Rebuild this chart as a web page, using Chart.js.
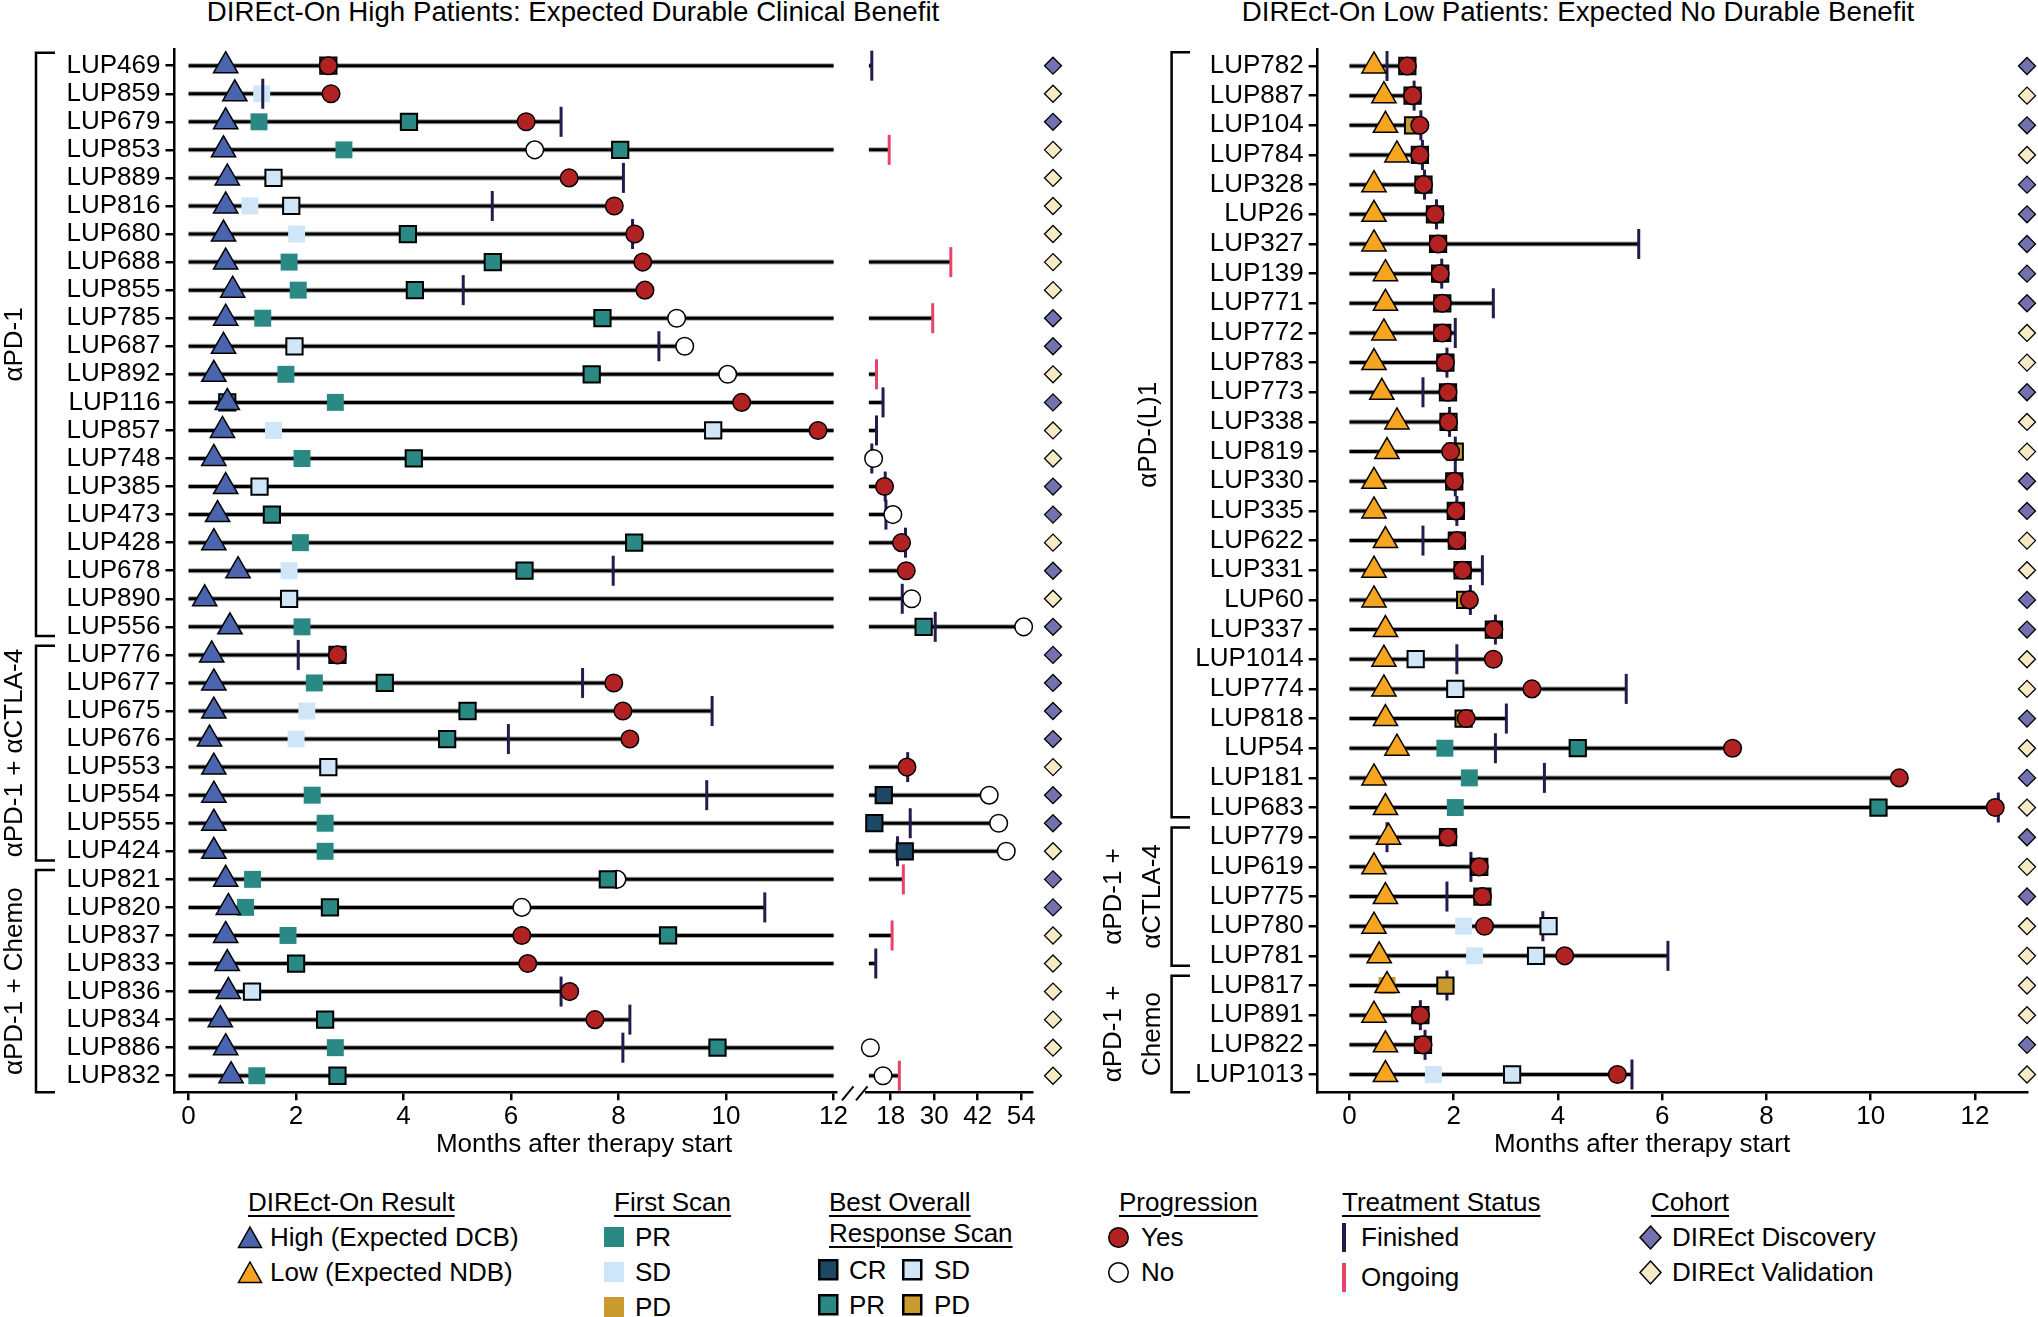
<!DOCTYPE html>
<html>
<head>
<meta charset="utf-8">
<title>DIREct-On swimmer plots</title>
<script src="https://cdn.jsdelivr.net/npm/chart.js@4.4.1/dist/chart.umd.min.js"></script>
<style>
  html, body { margin:0; padding:0; background:#fff; }
  body { width:2038px; height:1317px; position:relative; overflow:hidden;
         font-family:"Liberation Sans", Arial, sans-serif; color:#000; }
  .panel { position:absolute; top:0; height:1170px; }
  #panelL { left:0; width:1068px; }
  #panelR { left:1068px; width:970px; }
  .ptitle { position:absolute; top:-4px; font-size:27.7px; line-height:32px; white-space:nowrap; transform:translateX(-50%); }
  .lg { position:absolute; font-size:26px; line-height:30px; white-space:nowrap; }
  .lg.h { text-decoration: underline; text-decoration-thickness: 2px; text-underline-offset: 4px; }
  .sym { position:absolute; overflow:visible; }
</style>
</head>
<body>
<div class="ptitle" style="left:573px">DIREct-On High Patients: Expected Durable Clinical Benefit</div>
<div class="ptitle" style="left:1578px">DIREct-On Low Patients: Expected No Durable Benefit</div>
<div class="panel" id="panelL"><canvas id="chartL"></canvas></div>
<div class="panel" id="panelR"><canvas id="chartR"></canvas></div>
<div id="legend"></div>
<script>
// ===================== DATA: left panel (DIREct-On High) =====================
const leftPatients = ['LUP469','LUP859','LUP679','LUP853','LUP889','LUP816','LUP680','LUP688','LUP855','LUP785','LUP687','LUP892','LUP116','LUP857','LUP748','LUP385','LUP473','LUP428','LUP678','LUP890','LUP556','LUP776','LUP677','LUP675','LUP676','LUP553','LUP554','LUP555','LUP424','LUP821','LUP820','LUP837','LUP833','LUP836','LUP834','LUP886','LUP832'];
const leftDirectOnTime = [0.69,0.86,0.69,0.65,0.72,0.69,0.65,0.69,0.82,0.69,0.65,0.47,0.72,0.63,0.47,0.69,0.54,0.47,0.92,0.30,0.77,0.43,0.47,0.47,0.39,0.47,0.47,0.47,0.47,0.69,0.74,0.69,0.72,0.74,0.59,0.69,0.79];
const leftFirstScanTime = [null,1.36,1.31,2.89,null,1.14,2.01,1.87,2.04,1.38,null,1.81,2.73,1.58,2.11,null,null,2.08,1.87,null,2.11,null,2.34,2.20,2.00,null,2.30,2.54,2.54,1.19,1.06,1.85,null,null,null,2.73,1.27];
const leftFirstScanResp = [null,'SD','PR','PR',null,'SD','SD','PR','PR','PR',null,'PR','PR','SD','PR',null,null,'PR','SD',null,'PR',null,'PR','SD','SD',null,'PR','PR','PR','PR','PR','PR',null,null,null,'PR','PR'];
const leftBestRespTime = [2.60,null,4.10,8.03,1.58,1.91,4.08,5.66,4.21,7.70,1.97,7.50,0.72,9.76,4.19,1.32,1.55,8.29,6.25,1.87,27.1,2.77,3.65,5.19,4.81,2.60,16.1,13.5,21.9,7.80,2.63,8.92,2.00,1.18,2.54,9.84,2.77];
const leftBestResp = ['PD',null,'PR','PR','SD','SD','PR','PR','PR','PR','SD','PR','PR','SD','PR','SD','PR','PR','PR','SD','PR','PD','PR','PR','PR','SD','CR','CR','CR','PR','PR','PR','PR','SD','PR','PR','PR'];
const leftProgTime = [2.60,2.65,6.28,6.44,7.08,7.92,8.30,8.45,8.49,9.08,9.23,10.03,10.29,11.71,13.3,16.3,18.6,21.0,22.3,23.8,54.7,2.77,7.91,8.08,8.21,22.5,45.2,47.8,49.9,7.97,6.20,6.20,6.31,7.09,7.56,12.4,15.9];
const leftProgressed = ['Yes','Yes','Yes','No','Yes','Yes','Yes','Yes','Yes','No','No','No','Yes','Yes','No','Yes','No','Yes','Yes','No','No','Yes','Yes','Yes','Yes','Yes','No','No','No','No','No','Yes','Yes','Yes','Yes','No','No'];
const leftTreatTime = [12.8,1.38,6.93,17.6,8.09,5.65,8.26,34.6,5.11,29.6,8.75,14.1,15.9,14.1,12.8,16.5,16.7,22.1,7.90,21.2,30.3,2.04,7.33,9.74,5.95,22.7,9.64,23.4,19.9,21.5,10.72,18.4,13.9,6.93,8.21,8.08,20.4];
const leftTreatStatus = ['Finished','Finished','Finished','Ongoing','Finished','Finished','Finished','Ongoing','Finished','Ongoing','Finished','Ongoing','Finished','Finished','Finished','Finished','Finished','Finished','Finished','Finished','Finished','Finished','Finished','Finished','Finished','Finished','Finished','Finished','Finished','Ongoing','Finished','Ongoing','Finished','Finished','Finished','Finished','Ongoing'];
const leftCohort = ['Discovery','Validation','Discovery','Validation','Validation','Validation','Validation','Validation','Validation','Discovery','Discovery','Validation','Discovery','Validation','Validation','Discovery','Discovery','Validation','Discovery','Validation','Discovery','Discovery','Discovery','Discovery','Discovery','Validation','Discovery','Discovery','Validation','Discovery','Discovery','Validation','Validation','Validation','Validation','Validation','Validation'];
const leftGroups = [
  {lines:['αPD-1'], first:0, last:20},
  {lines:['αPD-1 + αCTLA-4'], first:21, last:28},
  {lines:['αPD-1 + Chemo'], first:29, last:36}
];
const leftTicksMain = [0,2,4,6,8,10,12];
const leftTicksLong = [18,30,42,54];

// ===================== DATA: right panel (DIREct-On Low) =====================
const rightPatients = ['LUP782','LUP887','LUP104','LUP784','LUP328','LUP26','LUP327','LUP139','LUP771','LUP772','LUP783','LUP773','LUP338','LUP819','LUP330','LUP335','LUP622','LUP331','LUP60','LUP337','LUP1014','LUP774','LUP818','LUP54','LUP181','LUP683','LUP779','LUP619','LUP775','LUP780','LUP781','LUP817','LUP891','LUP822','LUP1013'];
const rightDirectOnTime = [0.47,0.66,0.69,0.91,0.47,0.47,0.47,0.69,0.69,0.66,0.47,0.62,0.91,0.72,0.47,0.47,0.69,0.47,0.47,0.69,0.66,0.66,0.69,0.91,0.47,0.69,0.75,0.47,0.69,0.47,0.57,0.72,0.47,0.69,0.69];
const rightFirstScanTime = [null,null,null,null,null,null,null,null,null,null,null,null,null,null,null,null,null,null,null,null,null,null,null,1.83,2.30,2.03,null,null,null,2.19,2.40,0.72,null,null,1.61];
const rightFirstScanResp = [null,null,null,null,null,null,null,null,null,null,null,null,null,null,null,null,null,null,null,null,null,null,null,'PR','PR','PR',null,null,null,'SD','SD','PD',null,null,'SD'];
const rightBestRespTime = [1.11,1.21,1.22,1.35,1.42,1.64,1.70,1.74,1.78,1.78,1.84,1.89,1.90,2.02,2.01,2.04,2.06,2.17,2.22,2.77,1.27,2.03,2.19,4.38,null,10.15,1.89,2.49,2.55,3.82,3.58,1.84,1.36,1.41,3.12];
const rightBestResp = ['PD','PD','PD','PD','PD','PD','PD','PD','PD','PD','PD','PD','PD','PD','PD','PD','PD','PD','PD','PD','SD','SD','PD','PR',null,'PR','PD','PD','PD','SD','SD','PD','PD','PD','SD'];
const rightProgTime = [1.11,1.21,1.35,1.35,1.42,1.64,1.70,1.74,1.78,1.78,1.84,1.89,1.90,1.94,2.01,2.04,2.06,2.17,2.30,2.77,2.76,3.50,2.24,7.35,10.55,12.39,1.89,2.49,2.55,2.59,4.13,null,1.36,1.41,5.14];
const rightProgressed = ['Yes','Yes','Yes','Yes','Yes','Yes','Yes','Yes','Yes','Yes','Yes','Yes','Yes','Yes','Yes','Yes','Yes','Yes','Yes','Yes','Yes','Yes','Yes','Yes','Yes','Yes','Yes','Yes','Yes','Yes','Yes',null,'Yes','Yes','Yes'];
const rightTreatTime = [0.72,1.24,1.37,1.40,1.44,1.67,5.55,1.77,2.76,2.03,1.87,1.41,1.92,2.03,2.03,2.06,1.41,2.55,2.32,2.80,2.06,5.31,3.01,2.80,3.74,12.45,0.72,2.33,1.87,3.71,6.11,1.87,1.36,1.45,5.42];
const rightTreatStatus = rightPatients.map(() => 'Finished');
const rightCohort = ['Discovery','Validation','Discovery','Validation','Discovery','Discovery','Discovery','Discovery','Discovery','Validation','Validation','Discovery','Validation','Validation','Discovery','Discovery','Validation','Validation','Discovery','Discovery','Validation','Validation','Discovery','Validation','Discovery','Validation','Discovery','Validation','Discovery','Validation','Validation','Validation','Validation','Discovery','Validation'];
const rightGroups = [
  {lines:['αPD-(L)1'], first:0, last:25},
  {lines:['αPD-1 +','αCTLA-4'], first:26, last:30},
  {lines:['αPD-1 +','Chemo'], first:31, last:34}
];
const rightTicks = [0,2,4,6,8,10,12];

// ===================== STYLE =====================
const FONT = '"Liberation Sans", Arial, sans-serif';
const DIRECTON_COLOR = {High:'#4A64AE', Low:'#F6A521'};
const RESP_COLOR = {CR:'#1C4866', PR:'#2A8985', SD:'#CFE6F8', PD:'#C99A2E'};
const PROG_COLOR = {Yes:'#B22222', No:'#FFFFFF'};
const TREAT_COLOR = {Finished:'#221C4E', Ongoing:'#E8436A'};
const COHORT_COLOR = {Discovery:'#7471B0', Validation:'#F7EBC6'};

Chart.defaults.font.family = FONT;
Chart.defaults.color = '#000';

const MARK = {
  progYes: {order:1, pointStyle:'circle',   pointRadius:8.8, pointBorderWidth:1.5},
  tri:     {order:2, pointStyle:'triangle', pointRadius:14,  pointBorderWidth:1.5},
  best:    {order:3, pointStyle:'rect',     pointRadius:11.5,pointBorderWidth:2},
  progNo:  {order:4, pointStyle:'circle',   pointRadius:8.8, pointBorderWidth:1.5},
  treat:   {order:5, pointStyle:'line',     pointRadius:15,  pointBorderWidth:3, pointRotation:90},
  first:   {order:6, pointStyle:'rect',     pointRadius:12,  pointBorderWidth:0},
  cohort:  {order:10, pointStyle:'rectRot', pointRadius:8.5, pointBorderWidth:1.3}
};

function buildDatasets(d, axisFor, cohortAxis, cohortX, segmentsFor) {
  const buckets = new Map();
  const add = (kind, t, i, color) => {
    const ax = kind === 'cohort' ? cohortAxis : axisFor(t);
    const key = kind + '@' + ax;
    if (!buckets.has(key)) buckets.set(key, {kind, ax, data: [], colors: []});
    const b = buckets.get(key);
    b.data.push({x: t, y: i});
    b.colors.push(color);
  };
  const lineData = {};
  d.patients.forEach((p, i) => {
    const times = [d.directOn[i], d.firstTime[i], d.bestTime[i], d.progTime[i], d.treatTime[i]].filter(v => v != null);
    const end = Math.max(...times);
    segmentsFor(end).forEach(s => {
      (lineData[s.ax] = lineData[s.ax] || []).push({x: s.from, y: i}, {x: s.to, y: i}, {x: null, y: null});
    });
    add('tri', d.directOn[i], i, DIRECTON_COLOR[d.directOnResult]);
    if (d.firstTime[i] != null) add('first', d.firstTime[i], i, RESP_COLOR[d.firstResp[i]]);
    if (d.bestTime[i] != null) add('best', d.bestTime[i], i, RESP_COLOR[d.bestResp[i]]);
    if (d.progTime[i] != null) add(d.prog[i] === 'Yes' ? 'progYes' : 'progNo', d.progTime[i], i, PROG_COLOR[d.prog[i]]);
    if (d.treatTime[i] != null) add('treat', d.treatTime[i], i, TREAT_COLOR[d.treat[i]]);
    add('cohort', cohortX, i, COHORT_COLOR[d.cohort[i]]);
  });
  const sets = [];
  Object.keys(lineData).forEach(ax => {
    // grey halo under the black swim line
    sets.push({data: lineData[ax], xAxisID: ax, showLine: true, borderColor: '#a8a8a8', borderWidth: 5,
               pointRadius: 0, spanGaps: false, tension: 0, order: 8, clip: false});
    sets.push({data: lineData[ax], xAxisID: ax, showLine: true, borderColor: '#000', borderWidth: 3,
               pointRadius: 0, spanGaps: false, tension: 0, order: 7, clip: false});
  });
  buckets.forEach(b => {
    const st = MARK[b.kind];
    sets.push(Object.assign({
      data: b.data, xAxisID: b.ax, showLine: false, clip: false,
      pointBackgroundColor: b.colors,
      pointBorderColor: b.kind === 'treat' ? b.colors : '#000'
    }, st));
  });
  return sets;
}

// ===================== decoration plugin (brackets, group labels, axis title, axis break) =====================
const panelDecor = {
  id: 'panelDecor',
  afterDraw(chart, args, o) {
    const ctx = chart.ctx, y = chart.scales.y, area = chart.chartArea;
    const last = o.rows - 1;
    ctx.save();
    ctx.strokeStyle = '#000'; ctx.fillStyle = '#000'; ctx.lineWidth = 2.5;
    ctx.font = '26px ' + FONT;
    ctx.textAlign = 'center'; ctx.textBaseline = 'middle';
    o.groups.forEach(g => {
      const yt = g.first === 0 ? y.getPixelForValue(-0.46) : y.getPixelForValue(g.first - 0.33);
      const yb = g.last === last ? area.bottom : y.getPixelForValue(g.last + 0.33);
      ctx.beginPath();
      ctx.moveTo(o.tickX, yt); ctx.lineTo(o.bracketX, yt); ctx.lineTo(o.bracketX, yb); ctx.lineTo(o.tickX, yb);
      ctx.stroke();
      const ym = (yt + yb) / 2;
      g.lines.forEach((txt, k) => {
        ctx.save(); ctx.translate(o.labelX[g.lines.length - 1][k], ym); ctx.rotate(-Math.PI / 2);
        ctx.fillText(txt, 0, 0); ctx.restore();
      });
    });
    ctx.textBaseline = 'alphabetic';
    ctx.fillText(o.axisTitle, o.titleX, o.titleY);
    if (o.breakAxes) {
      const a = chart.scales[o.breakAxes[0]], b = chart.scales[o.breakAxes[1]];
      const yb = a.top;
      ctx.lineWidth = 2;
      [a.right + 6, b.left - 10].forEach(x0 => {
        ctx.beginPath(); ctx.moveTo(x0, yb + 8); ctx.lineTo(x0 + 11.5, yb - 6); ctx.stroke();
      });
    }
    ctx.restore();
  }
};

const X_AXIS_H = 40;
function fitX(s) { s.height = X_AXIS_H; s.paddingLeft = 0; s.paddingRight = 0; }
function axisX(extra) {
  return Object.assign({
    type: 'linear', position: 'bottom',
    afterFit: fitX,
    ticks: {font: {size: 26}, color: '#000', padding: 1, maxRotation: 0, autoSkip: false},
    grid: {drawOnChartArea: false, drawTicks: true, tickLength: 8, color: '#000', lineWidth: 2.5},
    border: {display: true, color: '#000', width: 2.5}
  }, extra);
}
function blankX(extra) {
  return Object.assign({
    type: 'linear', position: 'bottom', min: 0, max: 1,
    afterFit: fitX,
    ticks: {display: false}, grid: {display: false}, border: {display: false}
  }, extra);
}
function axisY(labels, lo, hi, width) {
  return {
    type: 'linear', position: 'left', reverse: true, min: lo, max: hi,
    afterBuildTicks: s => { s.ticks = labels.map((_, i) => ({value: i})); },
    afterFit: s => { s.width = width; s.paddingTop = 0; s.paddingBottom = 0; },
    ticks: {autoSkip: false, padding: 5, font: {size: 26}, color: '#000', callback: v => labels[v]},
    grid: {drawOnChartArea: false, drawTicks: true, tickLength: 9, color: '#000', lineWidth: 2.5},
    border: {display: true, color: '#000', width: 2.5}
  };
}
const PAD_B = 1170 - 1092.3 - X_AXIS_H;

// ---------- left chart ----------
const SEG1_MAX = 12;
const leftData = {
  patients: leftPatients, directOn: leftDirectOnTime, directOnResult: 'High',
  firstTime: leftFirstScanTime, firstResp: leftFirstScanResp,
  bestTime: leftBestRespTime, bestResp: leftBestResp,
  progTime: leftProgTime, prog: leftProgressed,
  treatTime: leftTreatTime, treat: leftTreatStatus, cohort: leftCohort
};
const leftSets = buildDatasets(leftData,
  t => t <= SEG1_MAX ? 'xA' : 'xB', 'xC', 21,
  end => end <= SEG1_MAX ? [{ax: 'xA', from: 0, to: end}]
                         : [{ax: 'xA', from: 0, to: SEG1_MAX}, {ax: 'xB', from: SEG1_MAX, to: end}]);

new Chart(document.getElementById('chartL'), {
  type: 'scatter',
  data: {datasets: leftSets},
  options: {
    responsive: true, maintainAspectRatio: false, animation: false, events: [],
    layout: {autoPadding: false, padding: {top: 49, left: 0, right: 0, bottom: PAD_B}},
    plugins: {
      legend: {display: false}, tooltip: {enabled: false},
      panelDecor: {rows: leftPatients.length, groups: leftGroups, bracketX: 36, tickX: 55,
                   labelX: [[15], [15]], axisTitle: 'Months after therapy start', titleX: 584, titleY: 1152,
                   breakAxes: ['xA', 'xB']}
    },
    scales: {
      y: axisY(leftPatients, -0.595, leftPatients.length - 1 + 0.59, 174.5),
      xA: axisX({stack: 'x', stackWeight: 661.5, min: -0.262, max: 12.045,
                 afterBuildTicks: s => { s.ticks = leftTicksMain.map(v => ({value: v})); }}),
      xG: blankX({stack: 'x', stackWeight: 30}),
      xB: axisX({stack: 'x', stackWeight: 166, min: 11.2, max: 57.0,
                 afterBuildTicks: s => { s.ticks = leftTicksLong.map(v => ({value: v})); }}),
      xC: blankX({stack: 'x', stackWeight: 36, min: 0, max: 36})
    }
  },
  plugins: [panelDecor]
});

// ---------- right chart ----------
const rightData = {
  patients: rightPatients, directOn: rightDirectOnTime, directOnResult: 'Low',
  firstTime: rightFirstScanTime, firstResp: rightFirstScanResp,
  bestTime: rightBestRespTime, bestResp: rightBestResp,
  progTime: rightProgTime, prog: rightProgressed,
  treatTime: rightTreatTime, treat: rightTreatStatus, cohort: rightCohort
};
const rightSets = buildDatasets(rightData, t => 'x', 'x', 13,
  end => [{ax: 'x', from: 0, to: end}]);

new Chart(document.getElementById('chartR'), {
  type: 'scatter',
  data: {datasets: rightSets},
  options: {
    responsive: true, maintainAspectRatio: false, animation: false, events: [],
    layout: {autoPadding: false, padding: {top: 49, left: 0, right: 11, bottom: PAD_B}},
    plugins: {
      legend: {display: false}, tooltip: {enabled: false},
      panelDecor: {rows: rightPatients.length, groups: rightGroups, bracketX: 103.6, tickX: 122,
                   labelX: [[80.5], [45.6, 85]], axisTitle: 'Months after therapy start', titleX: 574, titleY: 1152}
    },
    scales: {
      y: axisY(rightPatients, -0.573, rightPatients.length - 1 + 0.6, 249.7),
      x: axisX({min: -0.61, max: 13.0,
                afterBuildTicks: s => { s.ticks = rightTicks.map(v => ({value: v})); }})
    }
  },
  plugins: [panelDecor]
});

// ===================== LEGEND (HTML) =====================
const legendHeads = [
  ['DIREct-On Result', 248, 1202], ['First Scan', 614, 1202], ['Best Overall', 829, 1202],
  ['Response Scan', 829, 1233], ['Progression', 1119, 1202], ['Treatment Status', 1342, 1202], ['Cohort', 1651, 1202]
];
const legendItems = [
  ['tri', DIRECTON_COLOR.High, 249.5, 'High (Expected DCB)', 270, 1237],
  ['tri', DIRECTON_COLOR.Low, 249.5, 'Low (Expected NDB)', 270, 1272],
  ['sq', RESP_COLOR.PR, 614, 'PR', 635, 1237],
  ['sq', RESP_COLOR.SD, 614, 'SD', 635, 1272],
  ['sq', RESP_COLOR.PD, 614, 'PD', 635, 1307],
  ['bsq', RESP_COLOR.CR, 828.5, 'CR', 849, 1270],
  ['bsq', RESP_COLOR.SD, 912.5, 'SD', 934, 1270],
  ['bsq', RESP_COLOR.PR, 828.5, 'PR', 849, 1305],
  ['bsq', RESP_COLOR.PD, 912.5, 'PD', 934, 1305],
  ['circ', PROG_COLOR.Yes, 1118.5, 'Yes', 1141, 1237],
  ['circ', PROG_COLOR.No, 1118.5, 'No', 1141, 1272],
  ['bar', TREAT_COLOR.Finished, 1344, 'Finished', 1361, 1237],
  ['bar', TREAT_COLOR.Ongoing, 1344, 'Ongoing', 1361, 1277],
  ['dia', COHORT_COLOR.Discovery, 1650.5, 'DIREct Discovery', 1672, 1237],
  ['dia', COHORT_COLOR.Validation, 1650.5, 'DIREct Validation', 1672, 1272]
];
function symSvg(kind, fill) {
  switch (kind) {
    case 'tri':  return ['<polygon points="12,1 23.5,21.5 0.5,21.5" fill="' + fill + '" stroke="#000" stroke-width="1.5"/>', 24, 23];
    case 'sq':   return ['<rect x="0" y="0" width="20" height="20" fill="' + fill + '"/>', 20, 20];
    case 'bsq':  return ['<rect x="1.25" y="1.25" width="18" height="19" fill="' + fill + '" stroke="#000" stroke-width="2.5"/>', 20.5, 21.5];
    case 'circ': return ['<circle cx="10.5" cy="10.5" r="9.75" fill="' + fill + '" stroke="#000" stroke-width="1.5"/>', 21, 21];
    case 'bar':  return ['<rect x="0" y="0" width="4" height="29" fill="' + fill + '"/>', 4, 29];
    case 'dia':  return ['<polygon points="11.5,1 22,12.5 11.5,24 1,12.5" fill="' + fill + '" stroke="#000" stroke-width="1.5"/>', 23, 25];
  }
}
let html = '';
legendHeads.forEach(([t, x, y]) => { html += '<div class="lg h" style="left:' + x + 'px;top:' + (y - 15) + 'px">' + t + '</div>'; });
legendItems.forEach(([k, fill, sx, t, tx, y]) => {
  const [inner, w, h] = symSvg(k, fill);
  html += '<svg class="sym" width="' + w + '" height="' + h + '" style="left:' + (sx - w / 2) + 'px;top:' + (y - h / 2) + 'px">' + inner + '</svg>';
  html += '<div class="lg" style="left:' + tx + 'px;top:' + (y - 15) + 'px">' + t + '</div>';
});
document.getElementById('legend').innerHTML = html;
</script>
</body>
</html>
